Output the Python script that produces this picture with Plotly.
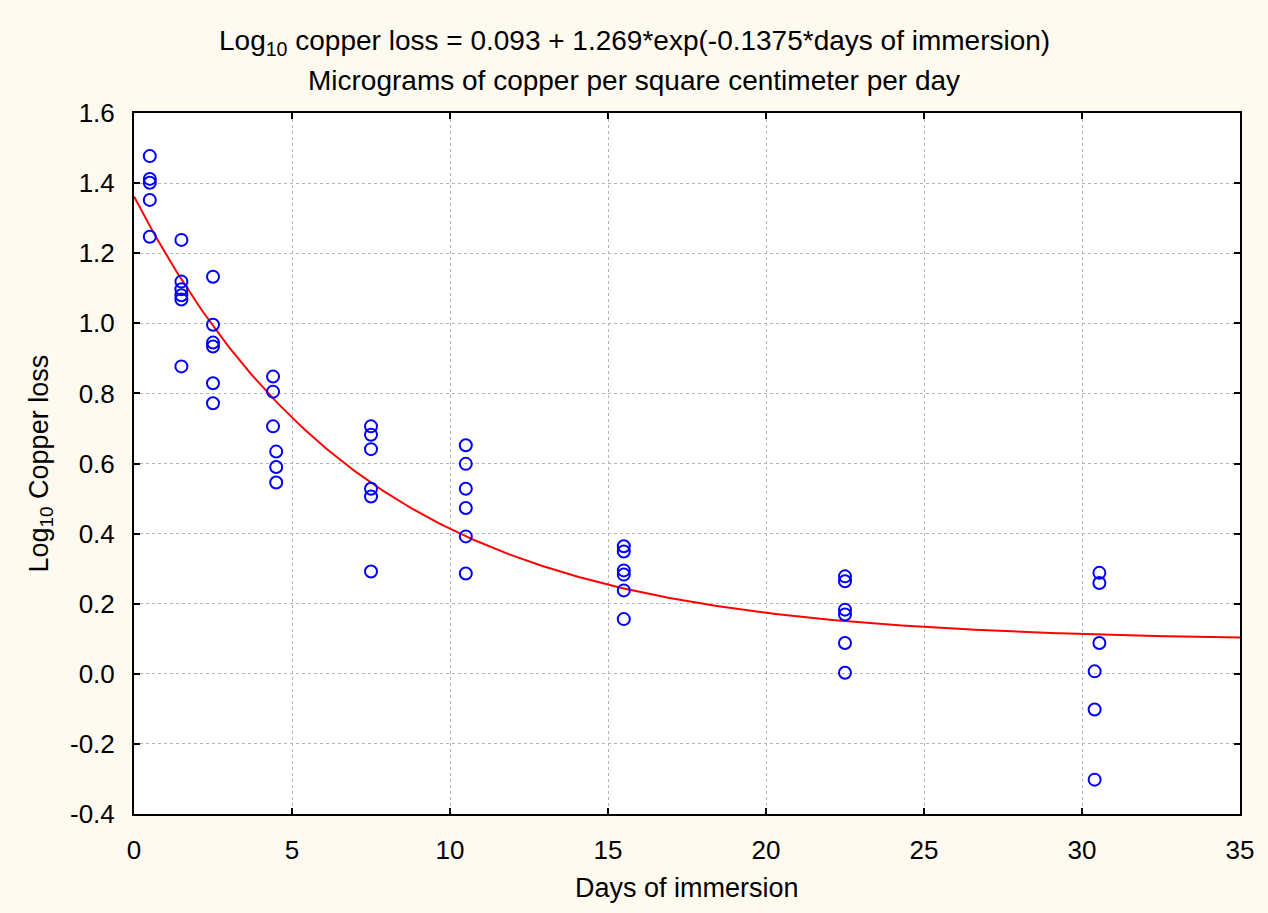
import numpy as np
import plotly.graph_objects as go

days = [0.5, 0.5, 0.5, 0.5, 0.5,
        1.5, 1.5, 1.5, 1.5, 1.5, 1.5,
        2.5, 2.5, 2.5, 2.5, 2.5, 2.5,
        4.4, 4.4, 4.4, 4.5, 4.5, 4.5,
        7.5, 7.5, 7.5, 7.5, 7.5, 7.5,
        10.5, 10.5, 10.5, 10.5, 10.5, 10.5,
        15.5, 15.5, 15.5, 15.5, 15.5, 15.5,
        22.5, 22.5, 22.5, 22.5, 22.5, 22.5,
        30.55, 30.55, 30.55, 30.4, 30.4, 30.4]
log_copper_loss = [1.477, 1.412, 1.401, 1.352, 1.247,
                   1.238, 1.119, 1.097, 1.080, 1.068, 0.877,
                   1.133, 0.996, 0.945, 0.934, 0.829, 0.772,
                   0.848, 0.805, 0.706, 0.634, 0.590, 0.546,
                   0.706, 0.682, 0.641, 0.528, 0.506, 0.292,
                   0.652, 0.599, 0.528, 0.473, 0.392, 0.286,
                   0.364, 0.349, 0.295, 0.283, 0.238, 0.156,
                   0.278, 0.264, 0.183, 0.169, 0.088, 0.003,
                   0.288, 0.259, 0.088, 0.007, -0.102, -0.302]

# Fitted model from the title: y = A + B*exp(C*x)
fit_a = 0.093
fit_b = 1.269
fit_c = -0.1375
curve_days = list(np.linspace(0, 35, 351))
curve_vals = [fit_a + fit_b * np.exp(fit_c * d) for d in curve_days]

x_ticks = [0, 5, 10, 15, 20, 25, 30, 35]
y_ticks = [-0.4, -0.2, 0.0, 0.2, 0.4, 0.6, 0.8, 1.0, 1.2, 1.4, 1.6]

title_line1 = "Log<sub>10</sub> copper loss = 0.093 + 1.269*exp(-0.1375*days of immersion)"
title_line2 = "Micrograms of copper per square centimeter per day"
x_title = "Days of immersion"
y_title = "Log<sub>10</sub> Copper loss"

FONT = "Arial, 'Liberation Sans', sans-serif"
BG = "#fffaf0"

fig = go.Figure()
fig.add_trace(go.Scatter(
    x=curve_days, y=curve_vals, mode="lines",
    line=dict(color="#ff0000", width=2), hoverinfo="skip", showlegend=False))
fig.add_trace(go.Scatter(
    x=days, y=log_copper_loss, mode="markers",
    marker=dict(symbol="circle-open", size=12, color="#0000ff",
                line=dict(width=2, color="#0000ff")),
    showlegend=False))

page_center = (634 - 134) / 1106

fig.update_layout(
    width=1268, height=913,
    paper_bgcolor=BG, plot_bgcolor="#ffffff",
    margin=dict(l=134, r=28, t=113, b=99),
    font=dict(family=FONT, size=26, color="#000000"),
    showlegend=False,
    annotations=[
        dict(text=title_line1,
             xref="paper", yref="paper", x=page_center, y=1 + (113 - 42) / 701.5,
             xanchor="center", yanchor="middle",
             showarrow=False, font=dict(family=FONT, size=28, color="#000000")),
        dict(text=title_line2,
             xref="paper", yref="paper", x=page_center, y=1 + (113 - 80) / 701.5,
             xanchor="center", yanchor="middle",
             showarrow=False, font=dict(family=FONT, size=28, color="#000000")),
        dict(text=x_title,
             xref="paper", yref="paper", x=0.5, y=(814.5 - 889) / 701.5,
             xanchor="center", yanchor="middle",
             showarrow=False, font=dict(family=FONT, size=27, color="#000000")),
        dict(text=y_title,
             xref="paper", yref="paper", x=(40 - 134) / 1106, y=0.5,
             xanchor="center", yanchor="middle", textangle=-90,
             showarrow=False, font=dict(family=FONT, size=27, color="#000000")),
    ],
    xaxis=dict(
        range=[0, 35], tickvals=x_ticks, ticktext=[str(v) for v in x_ticks],
        showgrid=True, gridcolor="#b4b4b4", griddash="dot", gridwidth=1,
        showline=True, linecolor="#000000", linewidth=2, mirror="ticks",
        ticks="inside", ticklen=6, tickwidth=2, tickcolor="#000000",
        zeroline=False, ticklabelstandoff=12,
        tickfont=dict(family=FONT, size=26),
    ),
    yaxis=dict(
        range=[-0.4, 1.6], tickvals=y_ticks, ticktext=[f"{v:.1f}" for v in y_ticks],
        showgrid=True, gridcolor="#b4b4b4", griddash="dot", gridwidth=1,
        showline=True, linecolor="#000000", linewidth=2, mirror="ticks",
        ticks="inside", ticklen=6, tickwidth=2, tickcolor="#000000",
        zeroline=False, ticklabelstandoff=12,
        tickfont=dict(family=FONT, size=26),
    ),
)

fig.write_html("out.html", config={"displayModeBar": False},
               post_script="document.body.style.margin='0';document.body.style.background='%s';" % BG)
